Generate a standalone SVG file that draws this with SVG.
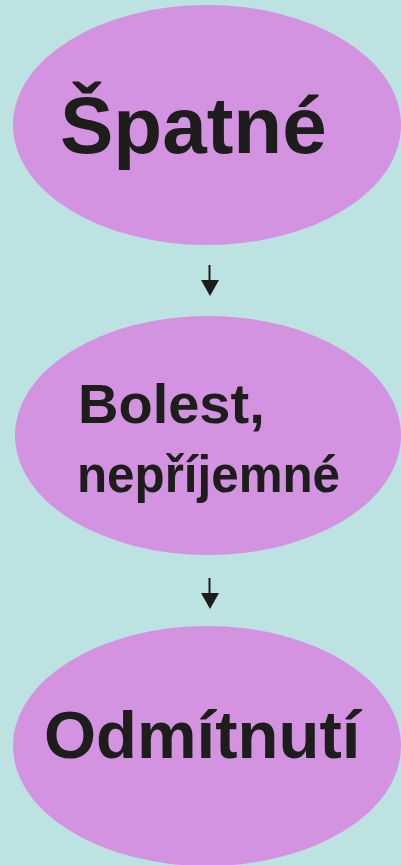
<svg xmlns="http://www.w3.org/2000/svg" width="401" height="865" viewBox="0 0 401 865">
<style>
.node ellipse{fill:#d493e0}
.node text{font-family:"Liberation Sans",Arial,sans-serif;font-weight:bold;fill:#1d1d1b}
.edge line{stroke:#1d1d1b;stroke-width:2}
.edge polygon{fill:#1d1d1b}
</style>
<rect x="0" y="0" width="401" height="865" fill="#bce3e2"/>
<g id="node-spatne" class="node">
<ellipse cx="207" cy="125" rx="194" ry="120"/>
<text x="60" y="153" font-size="80">Špatné</text>
</g>
<g id="node-bolest" class="node">
<ellipse cx="208" cy="435.5" rx="193" ry="119.5"/>
<text x="78" y="423" font-size="56">Bolest,</text>
<text x="77" y="492" font-size="52" textLength="263" lengthAdjust="spacingAndGlyphs">nepříjemné</text>
</g>
<g id="node-odmitnuti" class="node">
<ellipse cx="207" cy="746" rx="194" ry="120"/>
<text x="44" y="758" font-size="67">Odmítnutí</text>
</g>
<g id="connectors" class="edge">
<line x1="209.5" y1="265" x2="209.5" y2="282"/>
<polygon points="201,280 219,280 210,296"/>
<line x1="209.5" y1="578" x2="209.5" y2="595"/>
<polygon points="201,593 219,593 210,609"/>
</g>
</svg>
